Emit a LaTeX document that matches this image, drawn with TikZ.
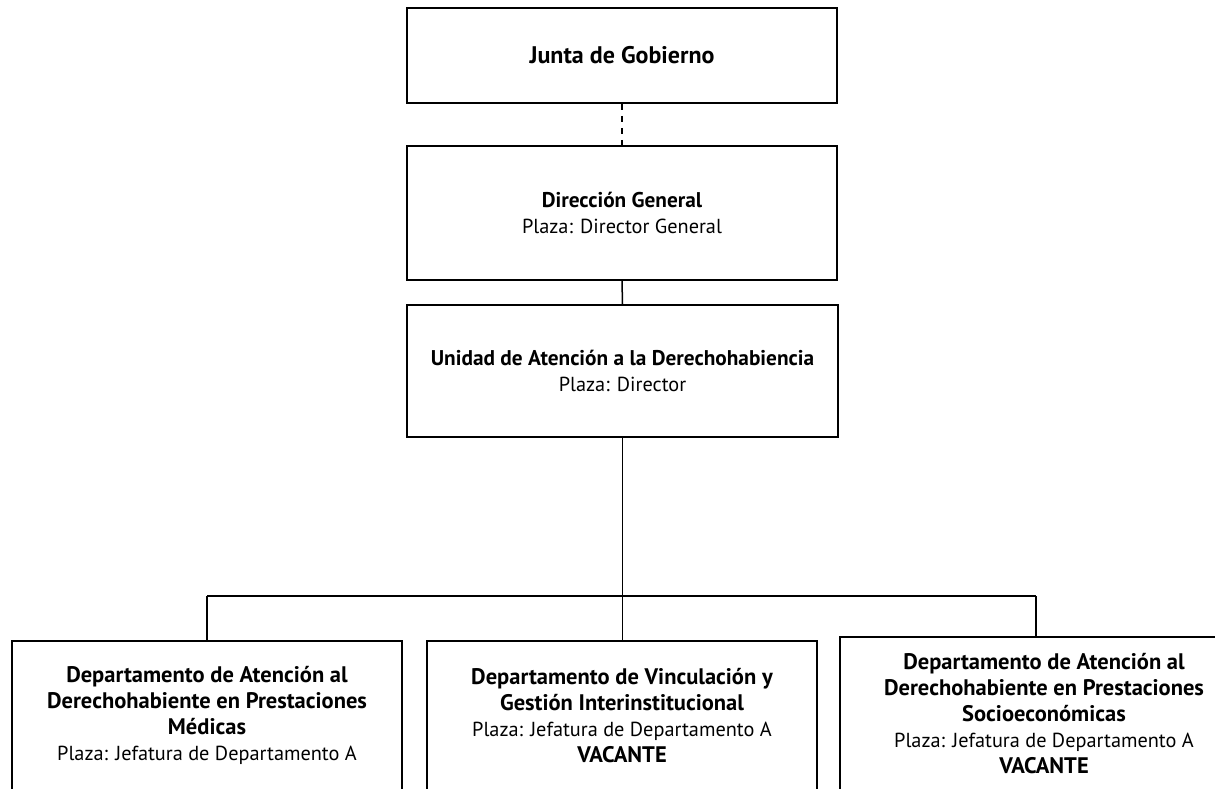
\documentclass[tikz,border=0pt]{standalone}
\usepackage{fontspec}
\setmainfont{PT Sans}
\newcommand\bta[1]{{\fontsize{21.3}{26}\selectfont\bfseries #1}}
\newcommand\btb[1]{{\fontsize{22.5}{25.5}\selectfont\bfseries #1}}
\begin{document}
\begin{tikzpicture}[x=1pt,y=-1pt,
  box/.style={draw,line width=1.5pt,inner sep=0pt,align=center,
    font=\fontsize{20.3}{26}\selectfont},
  conn/.style={line width=1.5pt},
  dconn/.style={line width=1.5pt,dash pattern=on 6pt off 6pt}]
\useasboundingbox (0,0) rectangle (1215,788);
\clip (0,0) rectangle (1215,788);
\node[box,minimum width=430pt,minimum height=95pt] (jg) at (622,55.5) {{\fontsize{24}{26}\selectfont\bfseries Junta de Gobierno}};
\node[box,minimum width=430pt,minimum height=134pt] (dg) at (622,213) {\bta{Dirección General}\\Plaza: Director General};
\node[box,minimum width=431pt,minimum height=132pt] (uad) at (622.5,371) {\bta{Unidad de Atención a la Derechohabiencia}\\Plaza: Director};
\node[box,minimum width=390pt,minimum height=149pt] (d1) at (207,715.5) {\btb{Departamento de Atención al}\\\btb{Derechohabiente en Prestaciones}\\\btb{Médicas}\\Plaza: Jefatura de Departamento A};
\node[box,minimum width=390pt,minimum height=149pt] (d2) at (622,715.5) {\btb{Departamento de Vinculación y}\\\btb{Gestión Interinstitucional}\\Plaza: Jefatura de Departamento A\\\btb{VACANTE}};
\node[box,minimum width=408pt,minimum height=153pt] (d3) at (1044,713.5) {\btb{Departamento de Atención al}\\\btb{Derechohabiente en Prestaciones}\\\btb{Socioeconómicas}\\Plaza: Jefatura de Departamento A\\\btb{VACANTE}};
\coordinate (bl) at (207,596);
\coordinate (br) at (1036,596);
\draw[dconn] (jg.south) -- (dg.north);
\draw[conn] (dg.south) -- (uad.north);
\draw[conn] (uad.south) -- (uad.south |- d2.north);
\draw[conn] (bl) -- (br);
\draw[conn] (bl) -- (d1.north);
\draw[conn] (br) -- (br |- d3.north);
\end{tikzpicture}
\end{document}
